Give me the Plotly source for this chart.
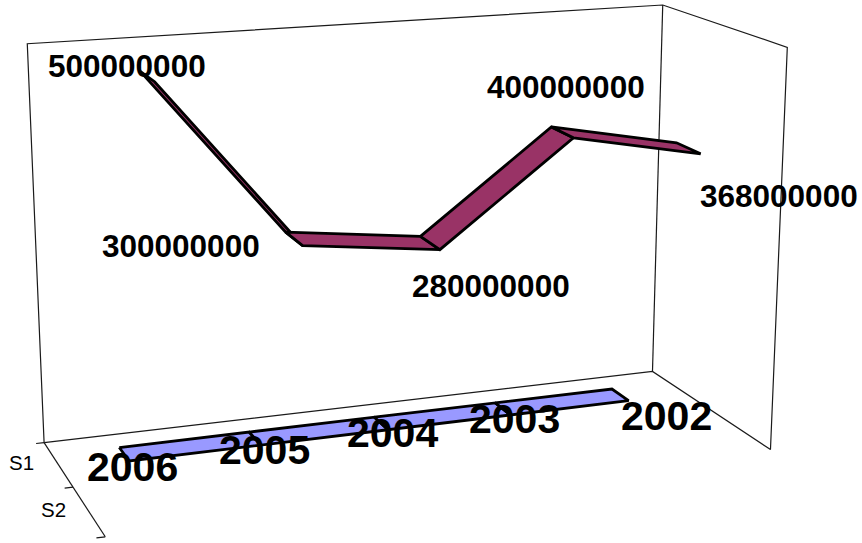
import numpy as np
import plotly.graph_objects as go

# ---- data ----
categories = ["C1", "C2", "C3", "C4", "C5"]
s1_values = [2006, 2005, 2004, 2003, 2002]
s2_values = [500000000, 300000000, 280000000, 400000000, 368000000]
series_names = ["S1", "S2"]
value_max = 500000000

# ---- styles / layout ----
S1_COLOR = "#9999FF"
S2_COLOR = "#993366"
S1_BAND = (0.85, 0.695)   # ribbon extent along depth (1 = back wall)
S2_BAND = (0.345, 0.15)
S1_SHIFT = [(8, 13), (9, 11), (11, 10), (12, 10), (46.5, 21)]
S2_SHIFT = [(-20, -10), (-113, 7), (61, 43), (4, -45), (91, 48)]
NAME_SHIFT = [(-37, -1.5), (-35.5, -1.5)]
W, H = 862, 543

# Perspective camera of the 3-D chart box (unit cube -> screen)
CAMERA = np.array([
    [744.8344463, -56.1729932, -20.0560056, 105.2608098],
    [-40.738544, -44.0413818, -446.1760178, 536.792594],
    [0.1033486, 0.1134094, -0.0490561, 1.0],
])


def project(x, y, z):
    h = CAMERA @ np.array([x, y, z, 1.0])
    return h[0] / h[2], h[1] / h[2]


def path(points):
    pts = [project(*p) for p in points]
    return [p[0] for p in pts], [p[1] for p in pts]


def cat_pos(i):
    return (i + 0.5) / len(categories)


fig = go.Figure()


def add_line(points, width=1.2, color="#1a1a1a"):
    xs, ys = path(points)
    fig.add_trace(go.Scatter(x=xs, y=ys, mode="lines", hoverinfo="skip",
                             line=dict(color=color, width=width)))


# walls, floor edges and depth axis
add_line([(0, 1, 0), (0, 1, 1), (1, 1, 1), (1, 0, 1), (1, 0, 0), (1, 1, 0), (0, 1, 0)])
add_line([(1, 1, 0), (1, 1, 1)])
add_line([(0, 1, 0), (0, 0, 0)])
for d in (1.0, 0.5, 0.0):
    add_line([(0, d, 0), (-0.012, d, 0)])


def ribbon(values, band, color):
    for i in range(len(values) - 1):
        z0, z1 = values[i] / value_max, values[i + 1] / value_max
        x0, x1 = cat_pos(i), cat_pos(i + 1)
        xs, ys = path([(x0, band[0], z0), (x1, band[0], z1),
                       (x1, band[1], z1), (x0, band[1], z0), (x0, band[0], z0)])
        fig.add_trace(go.Scatter(x=xs, y=ys, mode="lines", fill="toself",
                                 fillcolor=color, hoverinfo="skip",
                                 line=dict(color="black", width=2.8)))


ribbon(s1_values, S1_BAND, S1_COLOR)
ribbon(s2_values, S2_BAND, S2_COLOR)

annotations = []
FONT = "Liberation Sans"


def value_labels(values, band, shifts, size):
    for i, v in enumerate(values):
        px, py = project(cat_pos(i), sum(band) / 2, v / value_max)
        annotations.append(dict(x=px, y=py, xref="x", yref="y", text=f"<b>{v}</b>",
                                showarrow=False, xanchor="center", yanchor="middle",
                                xshift=shifts[i][0], yshift=-shifts[i][1],
                                font=dict(family=FONT, size=size, color="black")))


value_labels(s1_values, S1_BAND, S1_SHIFT, 41)
value_labels(s2_values, S2_BAND, S2_SHIFT, 31.5)

for name, d, sh in zip(series_names, (0.75, 0.25), NAME_SHIFT):
    px, py = project(0, d, 0)
    annotations.append(dict(x=px, y=py, xref="x", yref="y", text=name, showarrow=False,
                            xanchor="center", yanchor="middle", xshift=sh[0], yshift=-sh[1],
                            font=dict(family=FONT, size=20.5, color="black")))

fig.update_layout(
    width=W, height=H, margin=dict(l=0, r=0, t=0, b=0),
    paper_bgcolor="white", plot_bgcolor="white", showlegend=False,
    xaxis=dict(range=[0, W], visible=False, fixedrange=True),
    yaxis=dict(range=[H, 0], visible=False, fixedrange=True),
    annotations=annotations,
)
fig.write_html("out.html", config={"displayModeBar": False},
               post_script="document.body.style.margin='0';document.body.style.overflow='hidden';")
